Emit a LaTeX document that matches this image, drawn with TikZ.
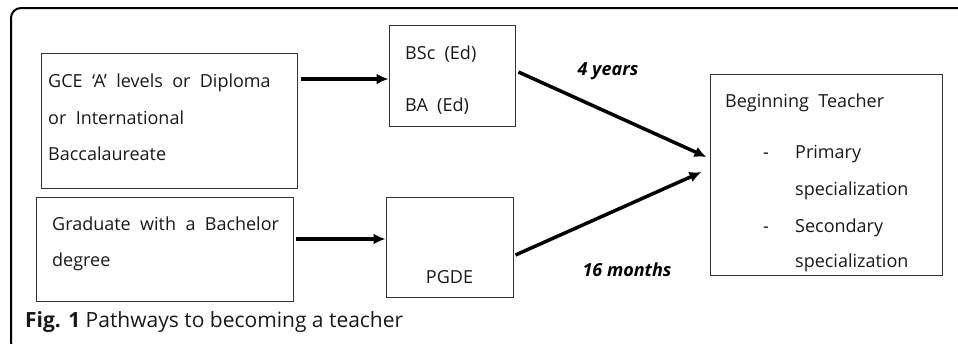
\documentclass[tikz,border=0pt]{standalone}
\usepackage{fontspec}
\setmainfont{Open Sans}[WordSpace=2]
\newfontfamily\capfont{Open Sans}
\usetikzlibrary{arrows.meta}
\tikzset{%Global config
	>={Latex[length=12pt,width=11pt]},
	x=1pt, y=-1pt,
	%Styles
	Box/.style={
		draw=black!80,
		line width=1pt,
		inner sep=0pt,
	},
	Txt/.style={
		anchor=base west,
		inner sep=0pt,
		text=black!90,
		font=\fontsize{18}{20}\selectfont,
	},
	Flow/.style={
		->,
		line width=3.5pt,
	},
	Dur/.style={
		anchor=base,
		inner sep=0pt,
		font=\capfont\fontsize{18}{20}\selectfont\bfseries\itshape,
	}
}

\begin{document}
\begin{tikzpicture}
	\useasboundingbox (0,0) rectangle (958,343);
	% Frame of the figure
	\begin{scope}
		\clip (0,0) rectangle (958,343);
		\draw[line width=2pt, rounded corners=10pt] (11,8) rectangle (980,352);
	\end{scope}
	
	% Boxes
	\node[Box, minimum width=256pt, minimum height=135pt] (A) at (169,120.5) {};
	\node[Box, minimum width=126pt, minimum height=101pt] (B) at (452,75.5) {};
	\node[Box, minimum width=257pt, minimum height=104pt] (C) at (164.5,249) {};
	\node[Box, minimum width=127pt, minimum height=100pt] (D) at (449.5,247) {};
	\node[Box, minimum width=232pt, minimum height=201pt] (E) at (826,174.5) {};
	
	% Box texts
	\foreach \y/\t [count=\i] in {87/{GCE ‘A’ levels or Diploma}, 124/{or International}, 160/{Baccalaureate}}
		\node[Txt] (A-\i) at (48,\y) {\t};
	\foreach \y/\t [count=\i] in {59/{BSc (Ed)}, 111/{BA (Ed)}}
		\node[Txt] (B-\i) at (405,\y) {\t};
	\foreach \y/\t [count=\i] in {230/{Graduate with a Bachelor}, 266/{degree}}
		\node[Txt] (C-\i) at (52,\y) {\t};
	\node[Txt, anchor=base] (D-1) at (449.5,283) {PGDE};
	\node[Txt] (E-1) at (725,107) {Beginning Teacher};
	\foreach \y/\t [count=\i from 2] in {158/{Primary}, 195/{specialization}, 232/{Secondary}, 267/{specialization}}
		\node[Txt] (E-\i) at (795,\y) {\t};
	\node[Txt] (dash-1) at (763,158) {-};
	\node[Txt] (dash-2) at (763,232) {-};
	
	% Pathways
	\draw[Flow] ([xshift=3pt,yshift=41.5pt]A.east) -- ([yshift=-3.5pt]B.west);
	\draw[Flow] ([xshift=2pt,yshift=10pt]C.east) -- ([yshift=8pt]D.west);
	\draw[Flow] ([xshift=3pt,yshift=3.5pt]B.east) -- ([xshift=-3pt,yshift=17.5pt]E.west);
	\draw[Flow] ([xshift=2pt,yshift=-8pt]D.east) -- ([xshift=-8pt,yshift=2.5pt]E.west);
	\node[Dur] (years) at (608,75) {4 years};
	\node[Dur] (months) at (627,276) {16 months};
	
	% Caption
	\node[Txt, font=\capfont\fontsize{21}{24}\selectfont] (cap) at (25,327) {\textbf{Fig. 1} Pathways to becoming a teacher};
\end{tikzpicture}
\end{document}
